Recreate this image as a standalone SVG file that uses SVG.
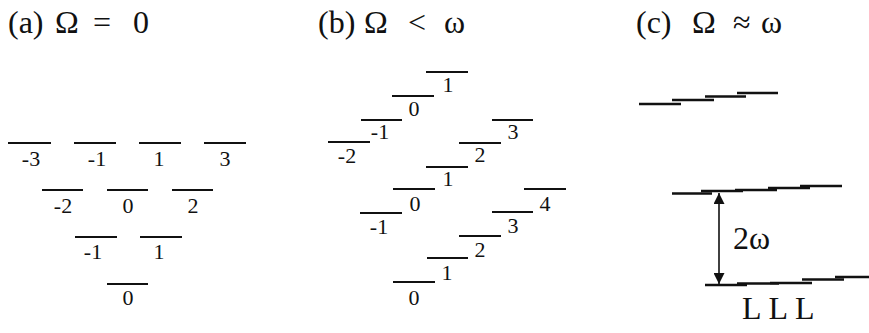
<svg xmlns="http://www.w3.org/2000/svg" width="869" height="333" viewBox="0 0 869 333">
<style>
.t{font-family:'Liberation Serif','Times New Roman',serif;font-size:32px;fill:#111}
.n{font-family:'Liberation Serif','Times New Roman',serif;font-size:22px;fill:#111;text-anchor:middle}
.lv{stroke:#111;stroke-width:2;fill:none}
.lc{stroke:#111;stroke-width:2.6;fill:none}
.ar{stroke:#111;stroke-width:1.6;fill:none}
</style>
<defs>
<marker id="ah" viewBox="0 0 10 10" refX="10" refY="5" markerWidth="11" markerHeight="11" markerUnits="userSpaceOnUse" orient="auto-start-reverse">
<path d="M0,0 L10,5 L0,10 z" fill="#111"/>
</marker>
</defs>
<rect width="869" height="333" fill="#fff"/>

<g id="titles">
<text class="t" y="33"><tspan x="8">(a)</tspan><tspan x="55">Ω</tspan><tspan x="93">=</tspan><tspan x="133">0</tspan></text>
<text class="t" y="33"><tspan x="318">(b)</tspan><tspan x="364">Ω</tspan><tspan x="408">&lt;</tspan><tspan x="444">ω</tspan></text>
<text class="t" y="33"><tspan x="636">(c)</tspan><tspan x="692">Ω</tspan><tspan x="733">≈</tspan><tspan x="761">ω</tspan></text>
</g>

<g id="panel-a">
<g id="a-r1-m3"><line class="lv" x1="8" y1="143" x2="51" y2="143"/><text class="n" x="31" y="166">-3</text></g>
<g id="a-r1-m1"><line class="lv" x1="74" y1="143" x2="116" y2="143"/><text class="n" x="97" y="166">-1</text></g>
<g id="a-r1-p1"><line class="lv" x1="139" y1="143" x2="181" y2="143"/><text class="n" x="159" y="166">1</text></g>
<g id="a-r1-p3"><line class="lv" x1="204" y1="143" x2="246" y2="143"/><text class="n" x="225" y="166">3</text></g>
<g id="a-r2-m2"><line class="lv" x1="42" y1="190" x2="83" y2="190"/><text class="n" x="63" y="213">-2</text></g>
<g id="a-r2-0"><line class="lv" x1="107" y1="190" x2="148" y2="190"/><text class="n" x="128" y="213">0</text></g>
<g id="a-r2-p2"><line class="lv" x1="172" y1="190" x2="213" y2="190"/><text class="n" x="193" y="213">2</text></g>
<g id="a-r3-m1"><line class="lv" x1="75" y1="237" x2="117" y2="237"/><text class="n" x="93" y="259">-1</text></g>
<g id="a-r3-p1"><line class="lv" x1="140" y1="237" x2="182" y2="237"/><text class="n" x="159" y="259">1</text></g>
<g id="a-r4-0"><line class="lv" x1="107" y1="284" x2="148" y2="284"/><text class="n" x="128" y="305">0</text></g>
</g>

<g id="panel-b">
<g id="b-u1"><line class="lv" x1="426" y1="72" x2="468" y2="72"/><text class="n" x="448" y="92">1</text></g>
<g id="b-u0"><line class="lv" x1="392" y1="96" x2="434" y2="96"/><text class="n" x="414" y="116">0</text></g>
<g id="b-um1"><line class="lv" x1="361" y1="120" x2="402" y2="120"/><text class="n" x="380" y="139">-1</text></g>
<g id="b-um2"><line class="lv" x1="328" y1="142" x2="370" y2="142"/><text class="n" x="347" y="163">-2</text></g>
<g id="b-m3"><line class="lv" x1="492" y1="120" x2="533" y2="120"/><text class="n" x="513" y="139">3</text></g>
<g id="b-m2"><line class="lv" x1="459" y1="143" x2="501" y2="143"/><text class="n" x="480" y="162">2</text></g>
<g id="b-m1"><line class="lv" x1="426" y1="167" x2="468" y2="167"/><text class="n" x="448" y="186">1</text></g>
<g id="b-m0"><line class="lv" x1="393" y1="189" x2="435" y2="189"/><text class="n" x="415" y="211">0</text></g>
<g id="b-mm1"><line class="lv" x1="360" y1="213" x2="402" y2="213"/><text class="n" x="379" y="234">-1</text></g>
<g id="b-l4"><line class="lv" x1="524" y1="189" x2="566" y2="189"/><text class="n" x="545" y="211">4</text></g>
<g id="b-l3"><line class="lv" x1="492" y1="212" x2="533" y2="212"/><text class="n" x="513" y="233">3</text></g>
<g id="b-l2"><line class="lv" x1="459" y1="236" x2="501" y2="236"/><text class="n" x="480" y="257">2</text></g>
<g id="b-l1"><line class="lv" x1="427" y1="258" x2="468" y2="258"/><text class="n" x="447" y="280">1</text></g>
<g id="b-l0"><line class="lv" x1="393" y1="282" x2="435" y2="282"/><text class="n" x="414" y="305">0</text></g>
</g>

<g id="panel-c">
<g id="c-top">
<line class="lc" x1="639" y1="104" x2="681" y2="104"/>
<line class="lc" x1="672" y1="100" x2="714" y2="100"/>
<line class="lc" x1="705" y1="96.5" x2="746" y2="96.5"/>
<line class="lc" x1="737" y1="93" x2="778" y2="93"/>
</g>
<g id="c-mid">
<line class="lc" x1="672" y1="193.5" x2="712" y2="193.5"/>
<line class="lc" x1="701" y1="191" x2="743" y2="191"/>
<line class="lc" x1="735" y1="190" x2="777" y2="190"/>
<line class="lc" x1="768" y1="188" x2="810" y2="188"/>
<line class="lc" x1="800" y1="186" x2="842" y2="186"/>
</g>
<g id="c-low">
<line class="lc" x1="705" y1="285" x2="747" y2="285"/>
<line class="lc" x1="737" y1="283.5" x2="779" y2="283.5"/>
<line class="lc" x1="770" y1="283" x2="812" y2="283"/>
<line class="lc" x1="802" y1="279.5" x2="844" y2="279.5"/>
<line class="lc" x1="835" y1="277" x2="869" y2="277"/>
</g>
<text class="t" x="733" y="249">2ω</text>
<text class="t" x="742" y="319" style="letter-spacing:7px">LLL</text>
</g>

<g id="connectors">
<line class="ar" x1="719" y1="193" x2="719" y2="284" marker-start="url(#ah)" marker-end="url(#ah)"/>
</g>
</svg>
